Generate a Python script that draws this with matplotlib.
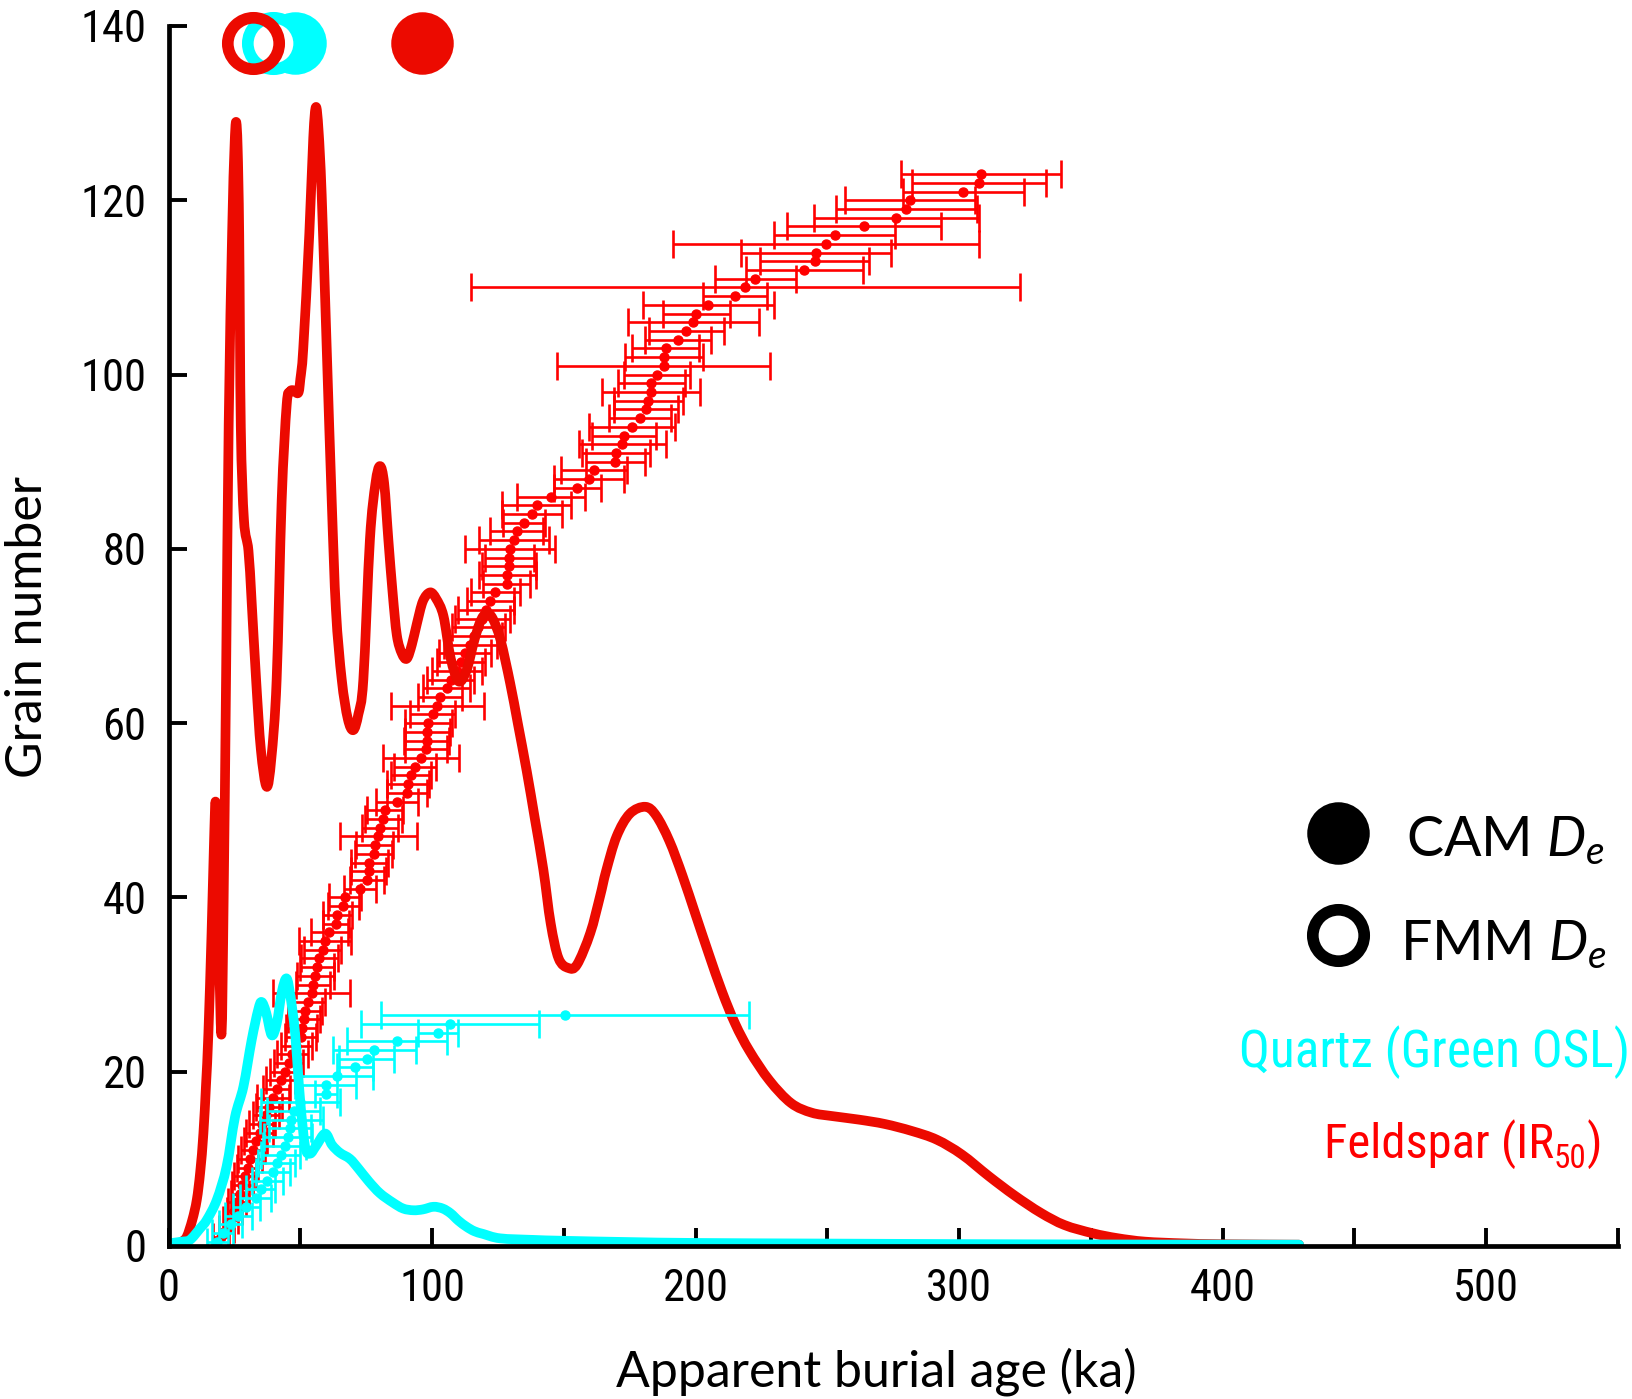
import numpy as np
import matplotlib
matplotlib.use("Agg")
import matplotlib.pyplot as plt
import matplotlib.font_manager as fm
from matplotlib.path import Path
from matplotlib.patches import PathPatch

# ---------------- data ----------------
# Feldspar (IR50) single-grain ages, sorted, grain number = rank
red_grain = np.arange(1, 124)
red_age = [20, 22, 23.5, 25, 26, 27, 28, 29, 30, 31,
           32, 33, 34.5, 35.5, 37, 38, 39.5, 41, 42.5, 44,
           45.5, 47, 48.5, 50.1, 50.5, 51.4, 51.8, 53.0, 54.3, 54.9,
           55.6, 56.2, 57.2, 58.5, 59.4, 61.0, 63.5, 64.0, 66.3, 66.9,
           72.6, 75.2, 75.9, 76.1, 77.9, 78.3, 79.6, 80.2, 81.5, 82.1,
           86.6, 90.4, 91.0, 91.9, 93.5, 95.7, 97.7, 97.9, 98.2, 98.6,
           100.2, 102.0, 103.0, 105.5, 107, 109.5, 111, 112.5, 114.5, 116,
           117.5, 119, 120.5, 122.0, 123.9, 128.3, 128.5, 129.1, 129.3, 129.6,
           131.1, 132.1, 134.9, 137.9, 139.7, 145.0, 155.1, 159.4, 161.4, 169.5,
           169.8, 172.1, 172.8, 175.9, 178.9, 181.2, 182.1, 183.1, 183.2, 185.4,
           187.8, 188.0, 188.7, 193.2, 196.5, 199.1, 200.3, 204.8, 214.8, 218.9,
           222.6, 241.3, 245.1, 245.8, 249.4, 252.8, 263.8, 276.2, 280.0, 281.4,
           301.6, 307.5, 308.2]
red_err = [3, 3, 3, 3, 3.5, 3.5, 4, 4, 4, 4.5,
           4.5, 4.5, 5, 5, 5, 5, 6, 5, 5.5, 5.5,
           5.5, 6, 6, 6, 6, 6, 6.5, 6.5, 14.5, 6.5,
           7, 6.5, 7, 7, 10, 7, 5, 5.5, 6, 6,
           6, 6.5, 6.5, 7, 7, 7, 14.7, 7, 7, 7,
           8, 7.5, 8, 7.5, 8, 14.5, 8, 8.5, 8.5, 9,
           8.5, 17.7, 8.5, 9, 9, 9.5, 9, 10, 10, 10.5,
           10, 10.5, 10.5, 8.9, 9.3, 9.0, 10.8, 10.2, 9.3, 17.0,
           13.2, 10.0, 8.1, 11.4, 13.0, 12.9, 8.9, 13.3, 12.5, 11.1,
           13.0, 16.5, 12.0, 16.3, 11.8, 12.0, 13.1, 18.5, 12.6, 12.6,
           40.3, 14.7, 12.7, 12.5, 14.2, 24.8, 12.8, 24.9, 12.2, 104,
           15.3, 22.3, 20.6, 28.5, 58.1, 23.0, 29.2, 31.3, 26.7, 24.6,
           23.0, 25.4, 30.4]

# Quartz (green OSL) single-grain ages
cyan_grain = np.arange(27) + 0.5
cyan_age = [18.5, 20.5, 23.5, 26.5, 29.5, 33, 35, 37.5, 39.5, 41,
            42.5, 44, 45.3, 46, 46.5, 47.5, 50, 59.7, 59.7, 63.8,
            70.7, 75.2, 78.1, 86.6, 102.1, 106.8, 150.4]
cyan_err = [4, 4, 4.5, 5, 5, 6, 5.5, 6, 6.5, 7,
            7.5, 8, 9, 8, 12, 10, 15, 4.3, 11.6, 13.8,
            6.8, 10.4, 15.8, 19, 7.6, 33.7, 69.8]

# Kernel density curves
red_kde_x = [0, 3, 5, 6.9, 9, 10.7, 12, 13.2, 14.2, 15.1, 16.3, 17.2, 17.8, 18.4, 19.2,
             20.1, 20.9, 21.8, 22.8, 24.1, 25, 25.6, 26.2, 26.8, 27.4, 28.6, 30.3, 31.5,
             33.2, 35, 37.2, 39, 41, 42.9, 44.8, 46, 47.3, 49.2, 50, 51.1, 53.4, 54.9,
             55.9, 56.9, 58.1, 60, 61.9, 63.5, 65.7, 68, 70.1, 72, 73.9, 76.4, 78.5,
             80.2, 81.8, 83.4, 85, 86.6, 88.5, 90.4, 92.3, 94.2, 96.5, 99.2, 101.5,
             104.3, 107, 110, 113, 116, 118.5, 120.7, 123, 126, 129.6, 132.5, 135.9,
             139, 142.2, 145, 148, 151.7, 155, 160, 163.7, 166, 170, 175, 180.9, 185,
             190, 195, 200, 205, 210, 215, 220.4, 228, 236.2, 244, 252, 262, 271.8, 282,
             291.5, 301, 311.3, 321, 331, 340, 350.7, 360, 370.5, 385, 400, 429]
red_kde_y = [0.1, 0.2, 0.5, 1.07, 3, 5.3, 8.5, 12.9, 18.5, 24.4, 35.9, 46, 51, 46, 33,
             24.4, 40, 65, 94.3, 116.2, 126, 129, 126, 116, 94, 83.3, 79.8, 74,
             65, 57, 52.7, 56, 65, 85.5, 96.5, 98, 98.2, 97.9, 99.5, 103, 116.2, 127.2,
             130.7, 128, 120.6, 103, 85.5, 73, 65, 60.5, 59.2, 61, 65, 81.1, 87.5,
             89.5, 87.5, 81, 75, 70.1, 68, 67.4, 69, 71.4, 74, 75.0, 74.3,
             72.3, 67.5, 64.8, 66, 69.5, 71.8, 72.6, 72, 69.5, 64.6, 60, 54.5,
             49.0, 43.2, 37, 33, 31.9, 32.3, 35.9, 40.1, 43, 47, 49.6, 50.4, 49.4,
             46.5, 42.5, 38, 33.5, 29.2, 25.5, 22.4, 19, 16.4, 15.3, 14.9, 14.5, 14.0, 13.2,
             12.2, 10.5, 8.0, 5.8, 3.8, 2.4, 1.46, 0.9, 0.5, 0.3, 0.2, 0.15]

cyan_kde_x = [0, 5, 8.1, 11.9, 14.5, 18.3, 22.0, 25.2, 28.4, 31.5, 34.0, 35.3, 37, 39.1,
              41, 43, 44.8, 46.3, 48.0, 49.9, 51.8, 53.7, 56, 59.4, 62, 65, 68.8, 72,
              76, 80.2, 85, 89, 92.9, 96.5, 100.5, 104, 107, 110, 113.1, 116, 119.4,
              125.8, 138.4, 149.7, 175, 200, 250, 300, 350, 400, 429]
cyan_kde_y = [0.3, 0.5, 0.7, 2.0, 3.0, 5.3, 9.1, 14.8, 18.3, 23.6, 27.1, 28.0, 26.8, 24.2,
              25.5, 29.2, 30.7, 28.5, 24.4, 16.8, 11.4, 10.6, 11.5, 12.9, 11.6, 10.7, 10.0, 8.9,
              7.4, 6.05, 5.0, 4.3, 4.1, 4.2, 4.5, 4.3, 3.75, 2.9, 2.2, 1.7, 1.38,
              0.88, 0.7, 0.6, 0.45, 0.35, 0.28, 0.22, 0.18, 0.16, 0.15]

# Summary doses shown at top (age)
cam_feld, fmm_feld = 96.0, 32.2
cam_qtz, fmm_qtz = 48.0, 39.7
top_y = 138

x_ticks = [0, 100, 200, 300, 400, 500]
x_minor = [50, 150, 250, 350, 450, 550]
y_ticks = [0, 20, 40, 60, 80, 100, 120, 140]

# ---------------- fonts ----------------
names = {f.name for f in fm.fontManager.ttflist}
REG = 'Lato' if 'Lato' in names else 'DejaVu Sans'


def find_condensed():
    prefs = ['Liberation Sans Narrow', 'Roboto Condensed', 'Open Sans Condensed',
             'Noto Sans', 'DejaVu Sans', 'Lato', 'Roboto', 'Open Sans']
    cands = []
    for f in fm.fontManager.ttflist:
        key = (f.name + ' ' + f.fname).lower()
        st = str(f.stretch).lower()
        cond = ('narrow' in key or 'condensed' in key or
                st in ('condensed', 'semi-condensed', 'extra-condensed', '75', '87.5'))
        if not cond:
            continue
        if f.style != 'normal':
            continue
        w = f.weight
        if w not in (400, 'normal', 'regular', 'book', 'Regular', 'Book'):
            continue
        if 'semicondensed' in key or 'semi-condensed' in key or 'extracondensed' in key:
            continue
        rank = len(prefs)
        for i, p in enumerate(prefs):
            if f.name.startswith(p):
                rank = i
                break
        cands.append((rank, f.fname))
    if cands:
        cands.sort()
        return cands[0][1]
    return None


cond_path = find_condensed()
if cond_path:
    NARROW_FP = fm.FontProperties(fname=cond_path)
    tick_size, qtz_size, feld_size = 32, 37, 35
else:
    NARROW_FP = fm.FontProperties(family=REG)
    tick_size, qtz_size, feld_size = 29, 33, 32

plt.rcParams['font.family'] = [REG, 'DejaVu Sans']
plt.rcParams['mathtext.fontset'] = 'custom'
plt.rcParams['mathtext.rm'] = REG
plt.rcParams['mathtext.it'] = REG + ':italic'

RED_LINE = '#EC0A00'
RED = '#FF0000'
CYAN = '#00FFFF'
SX, SY = 2.635, 8.714  # px per data unit (for smooth curve geometry)


def smooth_curve(ax, xs, ys, **kw):
    P = np.column_stack([np.asarray(xs, float) * SX, np.asarray(ys, float) * SY])
    n = len(P)
    verts = [P[0]]
    codes = [Path.MOVETO]
    for i in range(n - 1):
        p0 = P[i - 1] if i > 0 else P[i]
        p1 = P[i]
        p2 = P[i + 1]
        p3 = P[i + 2] if i + 2 < n else P[i + 1]
        c1 = p1 + (p2 - p0) / 6.0
        c2 = p2 - (p3 - p1) / 6.0
        verts += [c1, c2, p2]
        codes += [Path.CURVE4] * 3
    V = np.array(verts)
    V[:, 0] /= SX
    V[:, 1] /= SY
    patch = PathPatch(Path(V, codes), facecolor='none', capstyle='round',
                      joinstyle='round', transform=ax.transData, **kw)
    ax.add_patch(patch)
    return patch


W, H = 1632, 1399
fig = plt.figure(figsize=(W / 100, H / 100), dpi=100)
ax = fig.add_axes([168.6 / W, 1 - 1246 / H, (1618 - 168.6) / W, (1246 - 26) / H])
ax.set_xlim(0, 550)
ax.set_ylim(0, 140)

ax.errorbar(red_age, red_grain, xerr=red_err, fmt='o', color=RED, ms=6.5,
            elinewidth=1.9, capsize=10, capthick=1.9, zorder=2)
smooth_curve(ax, red_kde_x, red_kde_y, edgecolor=RED_LINE, lw=7, zorder=3)
ax.errorbar(cyan_age, cyan_grain, xerr=cyan_err, fmt='o', color=CYAN, ms=6.5,
            elinewidth=1.9, capsize=10, capthick=1.9, zorder=4)
smooth_curve(ax, cyan_kde_x, cyan_kde_y, edgecolor=CYAN, lw=7, zorder=5)

# top summary markers
ax.plot([cam_qtz], [top_y], 'o', color=CYAN, ms=45, mew=0, clip_on=False, zorder=6)
ax.plot([fmm_qtz], [top_y], 'o', mfc='white', mec=CYAN, ms=37, mew=8.4, clip_on=False, zorder=7)
ax.plot([fmm_feld], [top_y], 'o', mfc='none', mec=RED_LINE, ms=37, mew=8.4, clip_on=False, zorder=8)
ax.plot([cam_feld], [top_y], 'o', color=RED_LINE, ms=45, mew=0, clip_on=False, zorder=8)

# axes styling
for s in ['top', 'right']:
    ax.spines[s].set_visible(False)
for s in ['left', 'bottom']:
    ax.spines[s].set_linewidth(3.4)
    ax.spines[s].set_zorder(10)
ax.set_xticks(x_ticks)
ax.set_xticks(x_minor, minor=True)
ax.set_yticks(y_ticks)
ax.tick_params(axis='both', which='both', direction='in', length=13, width=2.8)
ax.tick_params(axis='both', which='major', pad=16)
for lab in ax.get_xticklabels() + ax.get_yticklabels():
    lab.set_fontproperties(NARROW_FP)
    lab.set_fontsize(tick_size)


def fx(X):
    return X / W


def fy(Y):
    return 1 - Y / H


fig.text(fx(876), fy(1387), 'Apparent burial age (ka)', ha='center', va='baseline', fontsize=36)
fig.text(fx(28), fy(627), 'Grain number', ha='center', va='center', rotation=90, fontsize=36)

# legend
fig.lines.append(plt.Line2D([fx(1338)], [fy(833)], transform=fig.transFigure, marker='o',
                            color='black', ms=45, mew=0, ls='none'))
fig.lines.append(plt.Line2D([fx(1338)], [fy(935)], transform=fig.transFigure, marker='o',
                            mfc='white', mec='black', ms=37, mew=8.4, ls='none'))
fig.text(fx(1406), fy(856), r'CAM $D_e$', ha='left', va='baseline', fontsize=40)
fig.text(fx(1400), fy(960), r'FMM $D_e$', ha='left', va='baseline', fontsize=40)

qp = NARROW_FP.copy()
qp.set_size(qtz_size)
fig.text(fx(1630), fy(1067), 'Quartz (Green OSL)', ha='right', va='baseline',
         color=CYAN, fontproperties=qp)

# Feldspar (IR50) with subscript built from text pieces
fp_main = NARROW_FP.copy()
fp_main.set_size(feld_size)
fp_sub = NARROW_FP.copy()
fp_sub.set_size(feld_size * 0.68)
fig.canvas.draw()
r = fig.canvas.get_renderer()
t_close = fig.text(fx(1602), fy(1158), ')', ha='right', va='baseline', color=RED,
                   fontproperties=fp_main)
bb = t_close.get_window_extent(r)
t_sub = fig.text(bb.x0 / W, fy(1168), '50', ha='right', va='baseline', color=RED,
                 fontproperties=fp_sub)
bb2 = t_sub.get_window_extent(r)
fig.text(bb2.x0 / W, fy(1158), 'Feldspar (IR', ha='right', va='baseline', color=RED,
         fontproperties=fp_main)

fig.savefig('out.png', dpi=100)
